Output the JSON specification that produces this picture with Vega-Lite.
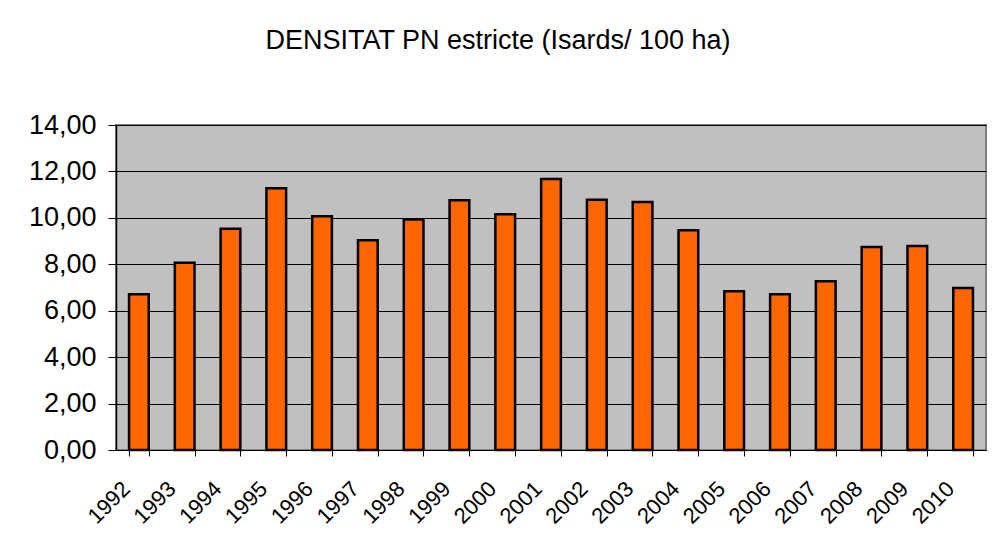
{
  "$schema": "https://vega.github.io/schema/vega-lite/v6.json",
  "autosize": {"type": "none"},
  "padding": {"left": 116, "top": 125, "right": 13, "bottom": 104},
  "width": 870,
  "height": 325,
  "background": "white",
  "title": {
    "text": "DENSITAT PN estricte (Isards/ 100 ha)",
    "font": "Liberation Sans",
    "fontSize": 27,
    "fontWeight": "normal",
    "color": "black",
    "anchor": "middle",
    "dx": -53,
    "baseline": "alphabetic",
    "offset": 35
  },
  "data": {
    "values": [
      {"year": "1992", "value": 6.71},
      {"year": "1993", "value": 8.07},
      {"year": "1994", "value": 9.53},
      {"year": "1995", "value": 11.28},
      {"year": "1996", "value": 10.07},
      {"year": "1997", "value": 9.04},
      {"year": "1998", "value": 9.93},
      {"year": "1999", "value": 10.76},
      {"year": "2000", "value": 10.16},
      {"year": "2001", "value": 11.67},
      {"year": "2002", "value": 10.78},
      {"year": "2003", "value": 10.68},
      {"year": "2004", "value": 9.47},
      {"year": "2005", "value": 6.84},
      {"year": "2006", "value": 6.71},
      {"year": "2007", "value": 7.27},
      {"year": "2008", "value": 8.75},
      {"year": "2009", "value": 8.79},
      {"year": "2010", "value": 6.98}
    ]
  },
  "mark": {"type": "bar", "color": "#FF6600", "stroke": "black", "strokeWidth": 2.5},
  "encoding": {
    "x": {
      "field": "year",
      "type": "ordinal",
      "scale": {"paddingInner": 0.57, "paddingOuter": 0.285},
      "axis": {
        "title": null,
        "labelAngle": -45,
        "labelAlign": "right",
        "labelBaseline": "middle",
        "labelFont": "Liberation Sans",
        "labelFontSize": 22,
        "labelColor": "black",
        "labelPadding": 29,
        "labelOffset": -13,
        "tickBand": "extent",
        "tickColor": "black",
        "tickSize": 6,
        "domainColor": "black",
        "domainWidth": 1,
        "grid": false
      }
    },
    "y": {
      "field": "value",
      "type": "quantitative",
      "scale": {"domain": [0, 14], "nice": false},
      "axis": {
        "title": null,
        "values": [0, 2, 4, 6, 8, 10, 12, 14],
        "labelExpr": "replace(format(datum.value, '.2f'), '.', ',')",
        "labelFont": "Liberation Sans",
        "labelFontSize": 27,
        "labelColor": "black",
        "labelPadding": 12,
        "tickSize": 8,
        "tickColor": "black",
        "domainColor": "black",
        "domainWidth": 1.5,
        "grid": true,
        "gridColor": "black",
        "gridWidth": 1
      }
    }
  },
  "config": {
    "view": {"fill": "#C0C0C0", "stroke": "#808080", "strokeWidth": 2}
  }
}
